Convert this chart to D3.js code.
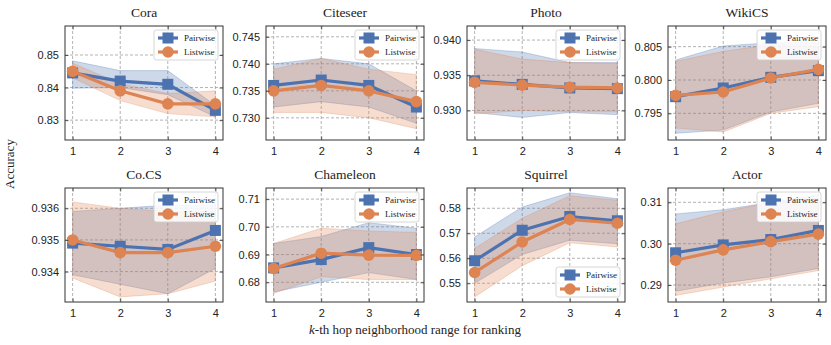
<!DOCTYPE html>
<html>
<head>
<meta charset="utf-8">
<script src="https://cdn.jsdelivr.net/npm/d3@7"></script>
<style>
  body { margin: 0; background: #fff; }
  svg { font-family: "Liberation Serif", "DejaVu Serif", serif; }
  .tick text { font-size: 11px; fill: #222; }
  .grid line { stroke: #a0a0a0; stroke-dasharray: 3,2; stroke-width: 0.8; }
  .title { font-weight: normal; }
</style>
</head>
<body>
<div id="chart"></div>
<script>
// data
const datasets = ['Cora', 'Citeseer', 'Photo', 'WikiCS', 'Co.CS', 'Chameleon', 'Squirrel', 'Actor'];
const hops = [1, 2, 3, 4];

const pairMean = [
  [0.8445, 0.8420, 0.8410, 0.8330],
  [0.7360, 0.7370, 0.7360, 0.7320],
  [0.9342, 0.9337, 0.9332, 0.9331],
  [0.7975, 0.7988, 0.8004, 0.8014],
  [0.9349, 0.9348, 0.9347, 0.9353],
  [0.6852, 0.6882, 0.6925, 0.6900],
  [0.5590, 0.5712, 0.5767, 0.5750],
  [0.2978, 0.2997, 0.3010, 0.3032]
];
const pairUpper = [
  [0.8482, 0.8452, 0.8452, 0.8345],
  [0.7400, 0.7410, 0.7400, 0.7350],
  [0.9388, 0.9383, 0.9368, 0.9368],
  [0.8030, 0.8051, 0.8056, 0.8056],
  [0.9359, 0.9360, 0.9361, 0.9361],
  [0.6940, 0.6965, 0.7015, 0.6995],
  [0.5685, 0.5805, 0.5862, 0.5838],
  [0.3072, 0.3082, 0.3100, 0.3118]
];
const pairLower = [
  [0.8398, 0.8400, 0.8378, 0.8310],
  [0.7320, 0.7330, 0.7320, 0.7290],
  [0.9297, 0.9290, 0.9297, 0.9294],
  [0.7920, 0.7925, 0.7952, 0.7965],
  [0.9339, 0.9336, 0.9333, 0.9341],
  [0.6765, 0.6800, 0.6835, 0.6810],
  [0.5500, 0.5615, 0.5672, 0.5658],
  [0.2885, 0.2905, 0.2920, 0.2940]
];
const listMean = [
  [0.8450, 0.8390, 0.8350, 0.8350],
  [0.7350, 0.7360, 0.7350, 0.7330],
  [0.9340, 0.9336, 0.9333, 0.9332],
  [0.7977, 0.7982, 0.8003, 0.8016],
  [0.9350, 0.9346, 0.9346, 0.9348],
  [0.6850, 0.6905, 0.6898, 0.6897],
  [0.5543, 0.5665, 0.5755, 0.5740],
  [0.2960, 0.2985, 0.3005, 0.3023]
];
const listUpper = [
  [0.8475, 0.8412, 0.8382, 0.8390],
  [0.7390, 0.7410, 0.7390, 0.7380],
  [0.9387, 0.9373, 0.9368, 0.9367],
  [0.8028, 0.8043, 0.8053, 0.8050],
  [0.9362, 0.9360, 0.9359, 0.9359],
  [0.6940, 0.6995, 0.6985, 0.6980],
  [0.5640, 0.5760, 0.5850, 0.5832],
  [0.3048, 0.3077, 0.3100, 0.3110]
];
const listLower = [
  [0.8430, 0.8360, 0.8320, 0.8310],
  [0.7310, 0.7310, 0.7300, 0.7280],
  [0.9295, 0.9300, 0.9298, 0.9298],
  [0.7928, 0.7922, 0.7950, 0.7960],
  [0.9338, 0.9332, 0.9333, 0.9337],
  [0.6760, 0.6820, 0.6810, 0.6810],
  [0.5445, 0.5570, 0.5662, 0.5645],
  [0.2875, 0.2895, 0.2915, 0.2935]
];
const yDomains = [
  [0.8239, 0.8589],
  [0.7259, 0.7470],
  [0.9258, 0.9420],
  [0.7910, 0.8081],
  [0.93304, 0.93664],
  [0.6729, 0.7140],
  [0.5425, 0.5881],
  [0.2859, 0.31346]
];
const yTicks = [
  [0.83, 0.84, 0.85],
  [0.730, 0.735, 0.740, 0.745],
  [0.930, 0.935, 0.940],
  [0.795, 0.800, 0.805],
  [0.934, 0.935, 0.936],
  [0.68, 0.69, 0.70, 0.71],
  [0.55, 0.56, 0.57, 0.58],
  [0.29, 0.30, 0.31]
];
const yFormats = ['.2f', '.3f', '.3f', '.3f', '.3f', '.2f', '.2f', '.2f'];
const legendBottom = [false, false, false, false, false, false, true, false];
const seriesNames = ['Pairwise', 'Listwise'];

const BLUE = '#4C72B0';
const ORANGE = '#DD8452';

const W = 831, H = 345;
const panelW = 158, panelH = 114;
const lefts = [65, 266, 467, 668];
const tops = [26, 188];

const svg = d3.select('#chart').append('svg')
  .attr('width', W)
  .attr('height', H);

const x = d3.scaleLinear().domain([0.84, 4.16]).range([0, panelW]);

datasets.forEach((name, i) => {
  const col = i % 4, row = Math.floor(i / 4);
  const g = svg.append('g')
    .attr('transform', `translate(${lefts[col]},${tops[row]})`);
  const y = d3.scaleLinear().domain(yDomains[i]).range([panelH, 0]);

  // grid
  const grid = g.append('g').attr('class', 'grid');
  hops.forEach((h) => {
    grid.append('line').attr('x1', x(h)).attr('x2', x(h)).attr('y1', 0).attr('y2', panelH);
  });
  yTicks[i].forEach((t) => {
    grid.append('line').attr('x1', 0).attr('x2', panelW).attr('y1', y(t)).attr('y2', y(t));
  });

  // bands
  const area = (lo, hi) => d3.area()
    .x((d, k) => x(hops[k]))
    .y0((d, k) => y(lo[k]))
    .y1((d, k) => y(hi[k]));
  const bands = [
    [pairLower[i], pairUpper[i], BLUE],
    [listLower[i], listUpper[i], ORANGE]
  ];
  bands.forEach(([lo, hi, c]) => {
    g.append('path')
      .attr('d', area(lo, hi)(lo))
      .attr('fill', c)
      .attr('fill-opacity', 0.28)
      .attr('stroke', c)
      .attr('stroke-opacity', 0.35)
      .attr('stroke-width', 0.8);
  });

  // lines
  const line = d3.line().x((d, k) => x(hops[k])).y((d) => y(d));
  g.append('path')
    .attr('d', line(pairMean[i]))
    .attr('fill', 'none').attr('stroke', BLUE).attr('stroke-width', 3.2);
  pairMean[i].forEach((v, k) => {
    g.append('rect')
      .attr('x', x(hops[k]) - 5.5).attr('y', y(v) - 5.5)
      .attr('width', 11).attr('height', 11)
      .attr('fill', BLUE);
  });
  g.append('path')
    .attr('d', line(listMean[i]))
    .attr('fill', 'none').attr('stroke', ORANGE).attr('stroke-width', 3.2);
  listMean[i].forEach((v, k) => {
    g.append('circle')
      .attr('cx', x(hops[k])).attr('cy', y(v)).attr('r', 5.8)
      .attr('fill', ORANGE);
  });

  // axes, ticks inward on all sides
  g.append('g')
    .attr('transform', `translate(0,${panelH})`)
    .call(d3.axisBottom(x).tickValues(hops).tickSize(-3.5).tickPadding(7).tickFormat(d3.format('d')))
    .call((a) => a.select('.domain').remove());
  g.append('g')
    .call(d3.axisTop(x).tickValues(hops).tickSize(-3.5).tickFormat(''))
    .call((a) => a.select('.domain').remove());
  g.append('g')
    .call(d3.axisLeft(y).tickValues(yTicks[i]).tickSize(-3.5).tickPadding(6).tickFormat(d3.format(yFormats[i])))
    .call((a) => a.select('.domain').remove());
  g.append('g')
    .attr('transform', `translate(${panelW},0)`)
    .call(d3.axisRight(y).tickValues(yTicks[i]).tickSize(-3.5).tickFormat(''))
    .call((a) => a.select('.domain').remove());
  g.selectAll('.tick line').attr('stroke', '#333').attr('stroke-width', 0.8);

  g.append('rect')
    .attr('width', panelW).attr('height', panelH)
    .attr('fill', 'none').attr('stroke', '#333').attr('stroke-width', 1);

  // title
  g.append('text')
    .attr('class', 'title')
    .attr('x', panelW / 2).attr('y', -9)
    .attr('text-anchor', 'middle')
    .attr('font-size', 13.5)
    .attr('fill', '#222')
    .text(name);

  // legend
  const lw = 64, lh = 30;
  const lx = panelW - lw - 5;
  const ly = legendBottom[i] ? panelH - lh - 5 : 4;
  const gL = g.append('g').attr('transform', `translate(${lx},${ly})`);
  gL.append('rect')
    .attr('width', lw).attr('height', lh).attr('rx', 2.5)
    .attr('fill', '#fff').attr('fill-opacity', 0.85)
    .attr('stroke', '#ccc').attr('stroke-width', 0.8);
  seriesNames.forEach((s, k) => {
    const cy = 8 + k * 14;
    const c = k === 0 ? BLUE : ORANGE;
    gL.append('line')
      .attr('x1', 4).attr('x2', 24).attr('y1', cy).attr('y2', cy)
      .attr('stroke', c).attr('stroke-width', 3.2);
    if (k === 0) {
      gL.append('rect').attr('x', 14 - 5.5).attr('y', cy - 5.5).attr('width', 11).attr('height', 11).attr('fill', c);
    } else {
      gL.append('circle').attr('cx', 14).attr('cy', cy).attr('r', 5.8).attr('fill', c);
    }
    gL.append('text')
      .attr('x', 30).attr('y', cy).attr('dy', '0.35em')
      .attr('font-size', 9)
      .attr('fill', '#222')
      .text(s);
  });
});

// axis labels
svg.append('text')
  .attr('transform', `translate(14,${(tops[0] + tops[1] + panelH) / 2}) rotate(-90)`)
  .attr('text-anchor', 'middle')
  .attr('font-size', 13)
  .attr('fill', '#222')
  .text('Accuracy');

const xl = svg.append('text')
  .attr('x', 415).attr('y', 334)
  .attr('text-anchor', 'middle')
  .attr('font-size', 13)
  .attr('fill', '#222');
xl.append('tspan').attr('font-style', 'italic').text('k');
xl.append('tspan').text('-th hop neighborhood range for ranking');
</script>
</body>
</html>
